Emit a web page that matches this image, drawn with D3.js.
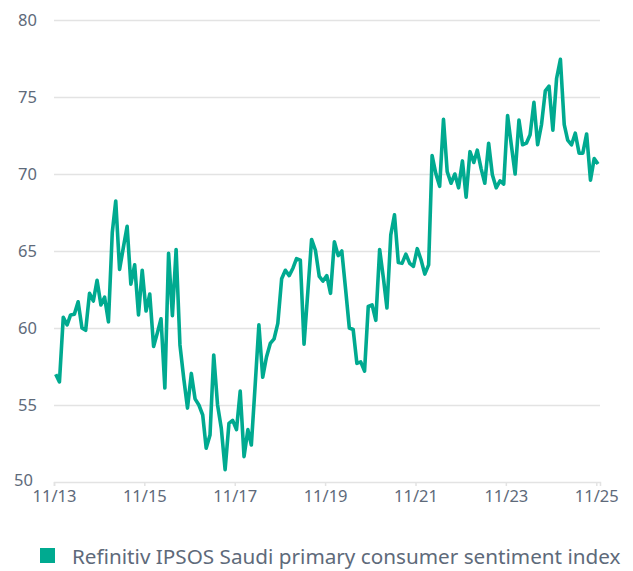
<!DOCTYPE html>
<html>
<head>
<meta charset="utf-8">
<script src="https://cdn.jsdelivr.net/npm/d3@7"></script>
<style>
  body { margin: 0; background: #fff; }
  text { font-family: "Noto Sans", sans-serif; }
</style>
</head>
<body>
<div id="chart"></div>
<script>
// monthly readings, Nov 2013 .. Nov 2025
const sentiment = [
  57.0, 56.5, 60.7, 60.2, 60.85, 60.9, 61.7, 60.0, 59.85, 62.25,
  61.75, 63.1, 61.5, 62.0, 60.4, 66.2, 68.25, 63.8, 65.2, 66.6,
  62.85, 64.1, 60.85, 63.75, 61.1, 62.2, 58.8, 59.7, 60.6, 56.1,
  64.85, 60.8, 65.1, 58.9, 56.7, 54.8, 57.05, 55.4, 55.0, 54.35,
  52.2, 53.05, 58.25, 55.0, 53.5, 50.8, 53.8, 54.0, 53.4, 55.9,
  51.65, 53.4, 52.4, 56.3, 60.2, 56.8, 58.1, 59.0, 59.3, 60.3,
  63.2, 63.75, 63.4, 63.9, 64.5, 64.4, 58.95, 62.4, 65.75, 65.05,
  63.35, 63.05, 63.4, 62.25, 65.6, 64.7, 65.0, 62.5, 60.0, 59.9,
  57.7, 57.8, 57.2, 61.4, 61.5, 60.5, 65.1, 63.2, 61.3, 66.05,
  67.35, 64.25, 64.2, 64.8, 64.2, 64.0, 65.15, 64.45, 63.5, 64.1,
  71.2, 70.0, 69.2, 73.55, 70.15, 69.4, 70.0, 69.1, 70.85, 68.5,
  71.45, 70.75, 71.55, 70.35, 69.4, 72.0, 69.95, 69.1, 69.55, 69.35,
  73.8, 71.9, 70.0, 73.5, 71.9, 72.0, 72.55, 74.65, 71.9, 73.2,
  75.4, 75.7, 72.85, 76.2, 77.45, 73.2, 72.2, 71.9, 72.65, 71.35,
  71.35, 72.6, 69.6, 71.0, 70.65
];
const months = d3.timeMonth.range(new Date(2013, 10, 1), new Date(2025, 11, 1));
const xTickLabels = ["11/13", "11/15", "11/17", "11/19", "11/21", "11/23", "11/25"];
const yTicks = [50, 55, 60, 65, 70, 75, 80];
const legendLabel = "Refinitiv IPSOS Saudi primary consumer sentiment index";

const width = 633, height = 571;
const teal = "#00aa90", grey = "#5e6a7a";

const data = months.map(function (m, i) {
    return { date: d3.timeDay.offset(m, 14), value: sentiment[i] };
});

const x = d3.scaleTime()
    .domain([new Date(2013, 10, 1), new Date(2025, 11, 1)])
    .range([54, 600]);
const y = d3.scaleLinear().domain([50, 80]).range([482, 20]);

let svg = d3.select("#chart").append("svg")
    .attr("width", width)
    .attr("height", height);

// gridlines + y labels
let yAxis = svg.append("g")
    .attr("transform", "translate(54,0)")
    .call(d3.axisLeft(y).tickValues(yTicks).tickSize(-546).tickPadding(17));
yAxis.select(".domain").remove();
yAxis.selectAll(".tick line").attr("stroke", "#e3e3e3").attr("stroke-width", 1.5);
yAxis.selectAll(".tick text")
    .attr("fill", grey)
    .style("font-size", "16.5px");
let tick50 = yAxis.selectAll(".tick").filter(function (d) { return d === 50; });
tick50.select("line").remove();
tick50.select("text").attr("x", -21).attr("dy", "0.2em"); // keep clear of 11/13

// x axis
const tickDates = xTickLabels.map(function (s) {
    return new Date(2000 + +s.split("/")[1], 10, 1);
});
let xAxis = svg.append("g")
    .attr("transform", "translate(0,482)")
    .call(d3.axisBottom(x).tickValues(tickDates).tickSize(4).tickPadding(4)
        .tickFormat(function (d, i) { return xTickLabels[i]; }));
xAxis.select(".domain").attr("stroke", "#e3e3e3").attr("stroke-width", 1.5);
xAxis.selectAll(".tick line").attr("stroke", "#e3e3e3").attr("stroke-width", 1.5);
xAxis.selectAll(".tick text")
    .attr("fill", grey)
    .style("font-size", "16.5px");

// the line
const line = d3.line()
    .x(function (d) { return x(d.date); })
    .y(function (d) { return y(d.value); });

svg.append("path")
    .datum(data)
    .attr("fill", "none")
    .attr("stroke", teal)
    .attr("stroke-width", 3.6)
    .attr("stroke-linejoin", "round")
    .attr("d", line);

// legend
svg.append("rect")
    .attr("x", 40).attr("y", 548)
    .attr("width", 15).attr("height", 15)
    .attr("fill", teal);
svg.append("text")
    .attr("x", 72).attr("y", 564)
    .attr("fill", grey)
    .style("font-size", "20.7px")
    .text(legendLabel);
</script>
</body>
</html>
